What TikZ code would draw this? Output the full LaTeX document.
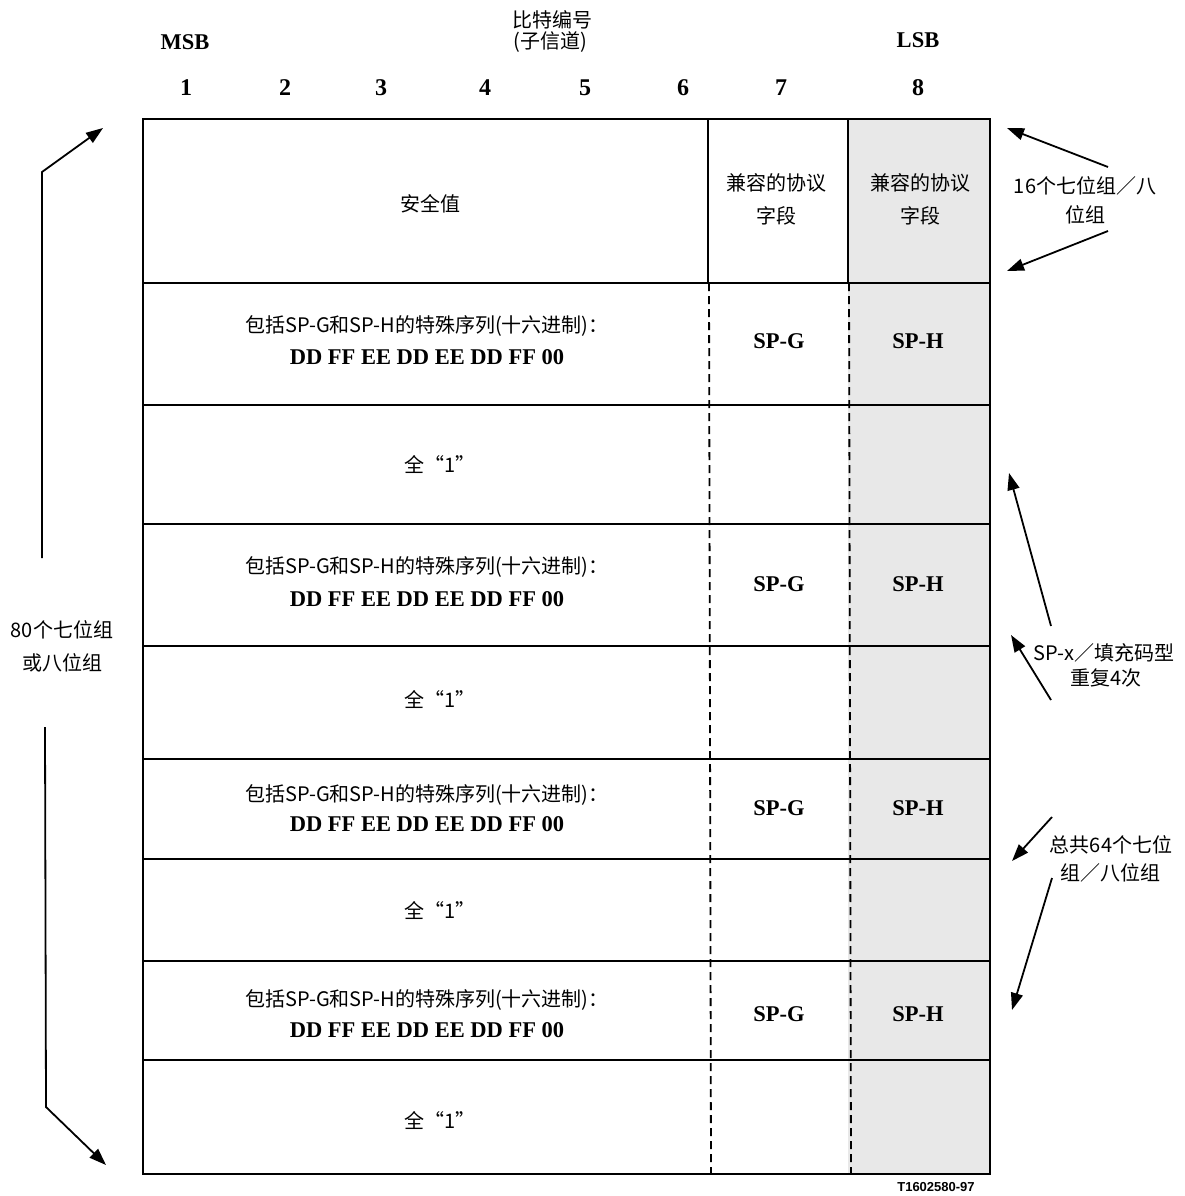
\documentclass[tikz,border=0pt]{standalone}
\usepackage{fontspec}
\setmainfont{Liberation Serif}
\newfontfamily\cjk{Noto Sans CJK SC}
\newfontfamily\labsans{Liberation Sans}
\usetikzlibrary{arrows.meta}
\begin{document}
\begin{tikzpicture}[x=1pt,y=-1pt,
 frame/.style={line width=2pt},
 dashline/.style={line width=1.8pt, dash pattern=on 8pt off 5pt},
 zh/.style={font=\cjk\fontsize{20}{22}\selectfont, inner sep=0pt},
 en/.style={font=\bfseries\fontsize{22.5}{24}\selectfont, inner sep=0pt},
 num/.style={font=\bfseries\fontsize{24}{24}\selectfont, inner sep=0pt},
 arr/.style={line width=1.8pt, -{Triangle[length=17pt,width=12pt]}}
]
\useasboundingbox (0,0) rectangle (1184,1196);
% shaded column
\fill[black!9] (848,119) rectangle (990,1174);
% frame and rows
\draw[frame] (143,119) rectangle (990,1174);
\foreach \y in {283,405,524,646,759,859,961,1060} \draw[frame] (143,\y) -- (990,\y);
\draw[frame] (708,119) -- (708,283);
\draw[frame] (848,119) -- (848,283);
\draw[dashline] (709,283) -- (711,1174);
\draw[dashline] (849,283) -- (851,1174);
% header
\node[en] (msb) at (185,42) {MSB};
\node[en] (lsb) at (918,40) {LSB};
\node[zh] (bh1) at (552,20) {比特编号};
\node[zh] (bh2) at (550,42) {(子信道)};
\node[num] (n1) at (186,88) {1};
\node[num] (n2) at (285,88) {2};
\node[num] (n3) at (381,88) {3};
\node[num] (n4) at (485,88) {4};
\node[num] (n5) at (585,88) {5};
\node[num] (n6) at (683,88) {6};
\node[num] (n7) at (781,88) {7};
\node[num] (n8) at (918,88) {8};
% first row
\node[zh] (safe) at (430,204) {安全值};
\node[zh] (c7a) at (776,183) {兼容的协议};
\node[zh] (c7b) at (776,216) {字段};
\node[zh] (c8a) at (920,183) {兼容的协议};
\node[zh] (c8b) at (920,216) {字段};
% sequence rows
\foreach \i/\ya/\yb/\ys in {1/326/357/341, 2/567/599/584, 3/795/824/808, 4/1000/1030/1014} {
  \node[zh] (seqa\i) at (427,\ya) {包括SP-G和SP-H的特殊序列(十六进制)：};
  \node[en] (seqb\i) at (427,\yb) {DD FF EE DD EE DD FF 00};
  \node[en] (spg\i) at (779,\ys) {SP-G};
  \node[en] (sph\i) at (918,\ys) {SP-H};
}
% all ones rows
\foreach \i/\y in {1/465, 2/700, 3/910, 4/1120} {
  \node[zh] (ones\i) at (440,\y) {全“1”};
}
% right labels
\node[zh] (r1a) at (1085,186) {16个七位组／八};
\node[zh] (r1b) at (1085,215) {位组};
\node[zh] (r2a) at (1104,653) {SP-x／填充码型};
\node[zh] (r2b) at (1106,678) {重复4次};
\node[zh] (r3a) at (1111,845) {总共64个七位};
\node[zh] (r3b) at (1110,873) {组／八位组};
% left label
\node[zh] (l1) at (62,630) {80个七位组};
\node[zh] (l2) at (62,663) {或八位组};
% arrow coordinates
\coordinate (t1s) at (1108,167); \coordinate (t1e) at (1007,128);
\coordinate (t2s) at (1108,231); \coordinate (t2e) at (1007,271);
\coordinate (t3s) at (1051,626); \coordinate (t3e) at (1009,473);
\coordinate (t4s) at (1051,700); \coordinate (t4e) at (1011,635);
\coordinate (t5s) at (1052,817); \coordinate (t5e) at (1012,861);
\coordinate (t6s) at (1052,878); \coordinate (t6e) at (1012,1010);
\coordinate (lus) at (42,558); \coordinate (lub) at (42,172); \coordinate (lue) at (103,128);
\coordinate (lds) at (45,727); \coordinate (ldb) at (46,1107); \coordinate (lde) at (106,1165);
\draw[arr] (t1s) -- (t1e);
\draw[arr] (t2s) -- (t2e);
\draw[arr] (t3s) -- (t3e);
\draw[arr] (t4s) -- (t4e);
\draw[arr] (t5s) -- (t5e);
\draw[arr] (t6s) -- (t6e);
\draw[arr] (lus) -- (lub) -- (lue);
\draw[arr] (lds) -- (ldb) -- (lde);
% figure id
\node[font=\labsans\bfseries\fontsize{13}{14}\selectfont, inner sep=0pt] (fid) at (936,1187) {T1602580-97};
\end{tikzpicture}
\end{document}
